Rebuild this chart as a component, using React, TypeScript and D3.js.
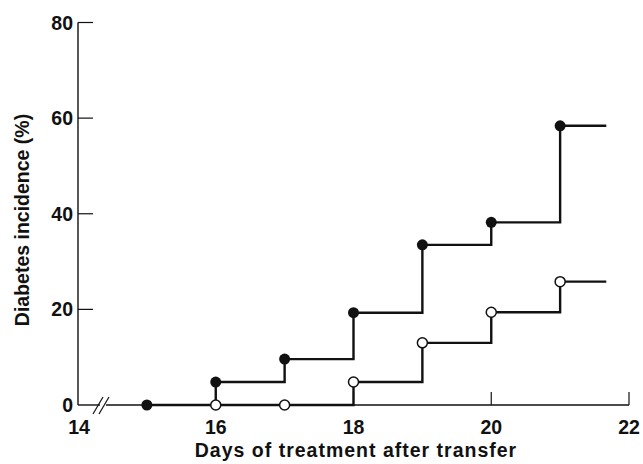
import React, { useEffect, useRef } from "react";
import * as d3 from "d3";

const days = [15, 16, 17, 18, 19, 20, 21];
const filledValues = [0, 4.8, 9.6, 19.3, 33.5, 38.2, 58.4];
const openDays = [16, 17, 18, 19, 20, 21];
const openValues = [0, 0, 4.8, 13, 19.4, 25.8];
const xTicks = [14, 16, 18, 20, 22];
const yTicks = [0, 20, 40, 60, 80];
const lastDay = 21.67;

const width = 643;
const height = 464;

const App = () => {
  const ref = useRef(null);

  useEffect(() => {
    const svg = d3.select(ref.current);
    svg.selectAll("*").remove();

    const x = d3.scaleLinear().domain([14, 22]).range([78, 629]);
    const y = d3.scaleLinear().domain([0, 80]).range([405, 22.5]);
    const font = "'Liberation Sans', Arial, sans-serif";

    // axes
    const ax = svg.append("g").attr("stroke", "#111").attr("fill", "none");
    ax.append("line")
      .attr("x1", x(14)).attr("x2", x(14))
      .attr("y1", y(0)).attr("y2", y(80))
      .attr("stroke-width", 1.4);
    // x axis with a break
    ax.append("line")
      .attr("x1", x(14)).attr("x2", 100)
      .attr("y1", y(0)).attr("y2", y(0))
      .attr("stroke-width", 1.4);
    ax.append("line")
      .attr("x1", 106).attr("x2", x(22))
      .attr("y1", y(0)).attr("y2", y(0))
      .attr("stroke-width", 1.4);
    [98, 104].forEach((bx) => {
      ax.append("line")
        .attr("x1", bx - 5).attr("x2", bx + 5)
        .attr("y1", y(0) + 9).attr("y2", y(0) - 8)
        .attr("stroke-width", 1.2);
    });

    yTicks.filter((t) => t > 0).forEach((t) => {
      ax.append("line")
        .attr("x1", x(14)).attr("x2", x(14) + 15)
        .attr("y1", y(t)).attr("y2", y(t))
        .attr("stroke-width", 1.2);
    });
    xTicks.filter((t) => t > 14).forEach((t) => {
      ax.append("line")
        .attr("x1", x(t)).attr("x2", x(t))
        .attr("y1", y(0)).attr("y2", y(0) - 13)
        .attr("stroke-width", 1.2);
    });

    const lab = svg.append("g")
      .attr("font-family", font)
      .attr("font-size", 19.5)
      .attr("font-weight", "bold")
      .attr("fill", "#111");
    yTicks.forEach((t) => {
      lab.append("text")
        .attr("x", 73).attr("y", y(t) + 7)
        .attr("text-anchor", "end")
        .text(t);
    });
    xTicks.forEach((t) => {
      lab.append("text")
        .attr("x", t === 14 ? x(t) + 1 : x(t)).attr("y", 434)
        .attr("text-anchor", "middle")
        .text(t);
    });
    lab.append("text")
      .attr("x", 356).attr("y", 457)
      .attr("text-anchor", "middle")
      .attr("letter-spacing", 1)
      .text("Days of treatment after transfer");
    lab.append("text")
      .attr("transform", `translate(29, 220) rotate(-90)`)
      .attr("text-anchor", "middle")
      .text("Diabetes incidence (%)");

    // step lines
    const stepLine = (ds, vs) => {
      const pts = ds.map((d, i) => [x(d), y(vs[i])]);
      pts.push([x(lastDay), y(vs[vs.length - 1])]);
      return d3.line().curve(d3.curveStepAfter)(pts);
    };

    svg.append("path")
      .attr("d", stepLine(openDays, openValues))
      .attr("fill", "none").attr("stroke", "#111").attr("stroke-width", 2.4);
    svg.append("path")
      .attr("d", stepLine(days, filledValues))
      .attr("fill", "none").attr("stroke", "#111").attr("stroke-width", 2.4);

    svg.append("g").selectAll("circle")
      .data(openDays.map((d, i) => [d, openValues[i]]))
      .enter().append("circle")
      .attr("cx", (d) => x(d[0])).attr("cy", (d) => y(d[1]))
      .attr("r", 5)
      .attr("fill", "#fff").attr("stroke", "#111").attr("stroke-width", 1.5);
    svg.append("g").selectAll("circle")
      .data(days.map((d, i) => [d, filledValues[i]]))
      .enter().append("circle")
      .attr("cx", (d) => x(d[0])).attr("cy", (d) => y(d[1]))
      .attr("r", 5.5)
      .attr("fill", "#111");
  }, []);

  return (
    <div style={{ position: "fixed", top: 0, left: 0 }}>
      <svg ref={ref} width={width} height={height} style={{ display: "block", background: "#fff" }}></svg>
    </div>
  );
};

export default App;
